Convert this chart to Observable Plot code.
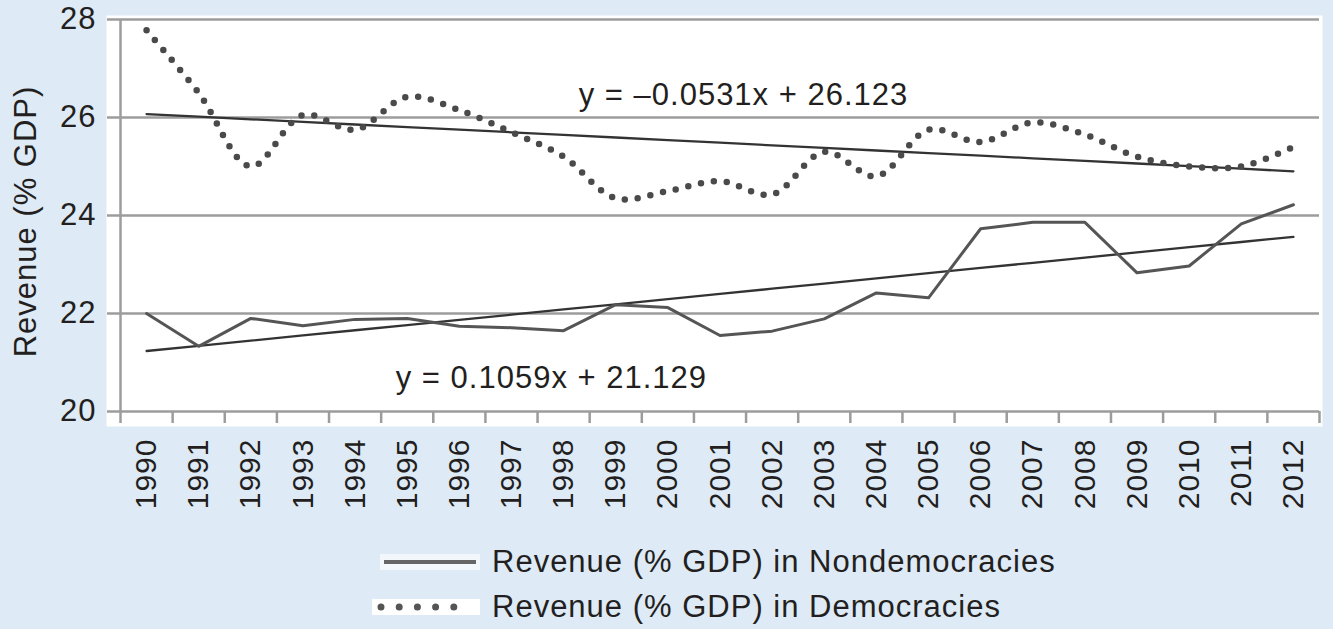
<!DOCTYPE html>
<html>
<head>
<meta charset="utf-8">
<script src="https://cdn.jsdelivr.net/npm/d3@7"></script>
<script src="https://cdn.jsdelivr.net/npm/@observablehq/plot@0.6"></script>
<style>
  html, body { margin: 0; padding: 0; background: #deeaf6; width: 1333px; height: 629px; overflow: hidden; }
  #chart { position: absolute; left: 0; top: 0; }
  #chart svg text { letter-spacing: 1px; }
  #legend { position: absolute; left: 0; top: 530px; width: 1333px; height: 99px; font-family: "Liberation Sans", Arial, sans-serif; font-size: 31px; letter-spacing: 1px; color: #231f20; }
  .item { position: absolute; display: flex; align-items: center; white-space: nowrap; }
  .item svg { margin-right: 12px; }
</style>
</head>
<body>
<div id="chart"></div>
<div id="legend"></div>
<script>
const years = [1990,1991,1992,1993,1994,1995,1996,1997,1998,1999,2000,2001,2002,2003,2004,2005,2006,2007,2008,2009,2010,2011,2012];
const nondemocracies = [22.0,21.33,21.9,21.75,21.88,21.9,21.74,21.71,21.65,22.18,22.12,21.55,21.64,21.89,22.42,22.32,23.73,23.86,23.86,22.83,22.97,23.83,24.22];
const democracies = [27.78,26.5,25.0,26.05,25.75,26.42,26.15,25.7,25.2,24.35,24.5,24.7,24.43,25.3,24.8,25.75,25.5,25.9,25.65,25.2,25.0,25.0,25.4];
const yTicks = [20,22,24,26,28];
const trendNon = {slope: 0.1059, intercept: 21.129, label: "y = 0.1059x + 21.129"};
const trendDem = {slope: -0.0531, intercept: 26.123, label: "y = \u20130.0531x + 26.123"};
const seriesNames = ["Revenue (% GDP) in Nondemocracies", "Revenue (% GDP) in Democracies"];
const yTitle = "Revenue (% GDP)";

const nonData = years.map((y, i) => ({year: y, value: nondemocracies[i]}));
const demData = years.map((y, i) => ({year: y, value: democracies[i]}));
const trendNonData = years.map((y, i) => ({year: y, value: trendNon.slope * (i + 1) + trendNon.intercept}));
const trendDemData = years.map((y, i) => ({year: y, value: trendDem.slope * (i + 1) + trendDem.intercept}));
const boundaries = [...years.map(y => y - 0.5), years[years.length - 1] + 0.5];

const grid = "#9c9c9c";
const ink = "#231f20";

const chart = Plot.plot({
  width: 1333,
  height: 530,
  marginLeft: 120,
  marginRight: 14,
  marginTop: 19,
  marginBottom: 119,
  style: {fontFamily: "'Liberation Sans', Arial, sans-serif", background: "transparent", overflow: "visible", color: ink},
  x: {type: "linear", domain: [boundaries[0], boundaries[boundaries.length - 1]]},
  y: {domain: [20, 28]},
  marks: [
    Plot.frame({fill: "white", stroke: null, insetLeft: -14, insetTop: -4, insetRight: -3, insetBottom: -15}),
    Plot.ruleY(yTicks, {stroke: grid, strokeWidth: 2.5}),
    Plot.ruleX([boundaries[0]], {y1: 20, y2: 28, stroke: grid, strokeWidth: 2.5}),
    Plot.axisY({ticks: yTicks, tickSize: 13, tickPadding: 11, fontSize: 31, stroke: grid, strokeWidth: 2.5, fill: ink, label: null}),
    Plot.axisX({ticks: boundaries, tickSize: 12, tickFormat: () => "", stroke: grid, strokeWidth: 2.5, label: null}),
    Plot.axisX({ticks: years, tickSize: 0, tickPadding: 27, tickRotate: -90, tickFormat: d => String(d), fontSize: 30, fill: ink, label: null}),
    Plot.text([yTitle], {frameAnchor: "left", text: d => d, rotate: -90, dx: -94, dy: 6, fontSize: 31, fill: ink, textAnchor: "middle", lineAnchor: "middle"}),
    Plot.line(trendDemData, {x: "year", y: "value", stroke: "#333", strokeWidth: 2.3}),
    Plot.line(trendNonData, {x: "year", y: "value", stroke: "#333", strokeWidth: 2.3}),
    Plot.line(nonData, {x: "year", y: "value", stroke: "#555", strokeWidth: 3}),
    Plot.line(demData, {x: "year", y: "value", curve: "catmull-rom", stroke: "#4a4a4a", strokeWidth: 6.5, strokeDasharray: "0 13", strokeLinecap: "round"}),
    Plot.text([trendDem.label], {x: 1998.29, y: 26.46, text: d => d, textAnchor: "start", fontSize: 31, fill: ink}),
    Plot.text([trendNon.label], {x: 1994.78, y: 20.69, text: d => d, textAnchor: "start", fontSize: 31, fill: ink})
  ]
});
document.getElementById("chart").appendChild(chart);

const legend = document.getElementById("legend");
const items = [
  {name: seriesNames[0], left: 380, top: 32, sample: `<svg width="100" height="16"><rect width="100" height="16" fill="white" opacity="0.6"/><line x1="4" x2="96" y1="8" y2="8" stroke="#666" stroke-width="4"/></svg>`},
  {name: seriesNames[1], left: 372, top: 77, sample: `<svg width="108" height="16"><rect width="108" height="16" fill="white"/><line x1="9" x2="100" y1="8" y2="8" stroke="#555" stroke-width="7" stroke-dasharray="0 18.2" stroke-linecap="round"/></svg>`}
];
items.forEach(it => {
  const d = document.createElement("div");
  d.className = "item";
  d.style.left = it.left + "px";
  d.style.top = (it.top - 20) + "px";
  d.style.height = "40px";
  d.innerHTML = it.sample + `<span>${it.name}</span>`;
  legend.appendChild(d);
});
</script>
</body>
</html>
